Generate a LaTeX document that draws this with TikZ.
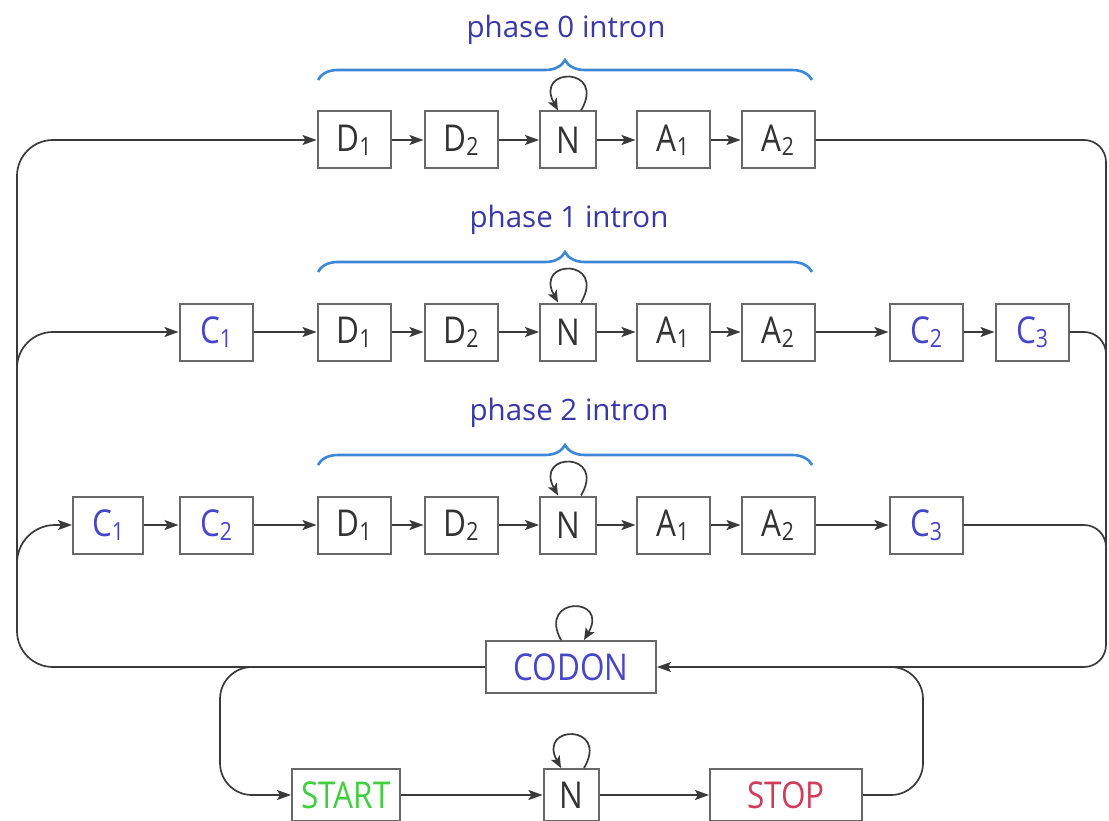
\documentclass[tikz,border=0pt]{standalone}
\usepackage{fontspec}
\setmainfont{Open Sans}
\newfontfamily\lblfont{Open Sans}[FakeStretch=0.85]
\usetikzlibrary{arrows.meta,decorations.pathreplacing,calc}
\definecolor{boxgray}{HTML}{686868}
\definecolor{lngray}{HTML}{3A3A3A}
\definecolor{txtgray}{HTML}{333333}
\definecolor{cblue}{HTML}{4646C8}
\definecolor{pblue}{HTML}{3838A8}
\definecolor{brblue}{HTML}{3C86D8}
\definecolor{sgreen}{HTML}{3FCF3F}
\definecolor{sred}{HTML}{D23C5A}
\newcommand{\mysub}[1]{\raisebox{-4pt}{\fontsize{25}{25}\selectfont #1}}
\tikzset{
  stbox/.style={draw=boxgray, line width=2pt, fill=white, inner sep=0pt,
    minimum width=73pt, minimum height=57pt, text=txtgray,
    font=\lblfont\fontsize{37}{37}\selectfont},
  nbox/.style={stbox, minimum width=56pt},
  cbox/.style={stbox, text=cblue},
  lowbox/.style={stbox, minimum height=52pt},
  ln/.style={draw=lngray, line width=1.7pt},
  arr/.style={ln, -{Stealth[length=14pt,width=10pt,inset=3pt]}},
  looparr/.style={ln, -{Stealth[length=12pt,width=10pt,inset=3pt]}},
  phase/.style={text=pblue, font=\fontsize{29.5}{29.5}\selectfont, inner sep=0pt},
  brc/.style={draw=brblue, line width=2.6pt,
    decorate, decoration={brace, amplitude=20pt}},
}
\begin{document}
\begin{tikzpicture}[x=1pt,y=-1pt]
\useasboundingbox (0,0) rectangle (1109,821);

% ---------- row 0 ----------
\node[stbox] (r0d1) at (354,140) {D\mysub{1}};
\node[stbox] (r0d2) at (461,140) {D\mysub{2}};
\node[nbox]  (r0n)  at (568,140) {N};
\node[stbox] (r0a1) at (673,140) {A\mysub{1}};
\node[stbox] (r0a2) at (778,140) {A\mysub{2}};

% ---------- row 1 ----------
\node[cbox]  (r1c1) at (216,332) {C\mysub{1}};
\node[stbox] (r1d1) at (354,332) {D\mysub{1}};
\node[stbox] (r1d2) at (461,332) {D\mysub{2}};
\node[nbox]  (r1n)  at (568,332) {N};
\node[stbox] (r1a1) at (673,332) {A\mysub{1}};
\node[stbox] (r1a2) at (778,332) {A\mysub{2}};
\node[cbox]  (r1c2) at (926,332) {C\mysub{2}};
\node[cbox]  (r1c3) at (1032,332) {C\mysub{3}};

% ---------- row 2 ----------
\node[cbox, minimum width=70pt] (r2c1) at (108,525) {C\mysub{1}};
\node[cbox]  (r2c2) at (216,525) {C\mysub{2}};
\node[stbox] (r2d1) at (354,525) {D\mysub{1}};
\node[stbox] (r2d2) at (461,525) {D\mysub{2}};
\node[nbox]  (r2n)  at (568,525) {N};
\node[stbox] (r2a1) at (673,525) {A\mysub{1}};
\node[stbox] (r2a2) at (778,525) {A\mysub{2}};
\node[cbox]  (r2c3) at (926,525) {C\mysub{3}};

% ---------- bottom ----------
\node[lowbox, text=cblue, minimum width=170pt] (codon) at (571,667) {CODON};
\node[lowbox, text=sgreen, minimum width=108pt] (start) at (346,795) {START};
\node[lowbox, minimum width=55pt] (bn) at (571,795) {N};
\node[lowbox, text=sred, minimum width=152pt] (stop) at (786,795) {STOP};

% ---------- phase labels and braces ----------
\node[phase] (p0) at (566,30) {phase 0 intron};
\node[phase] (p1) at (569,220) {phase 1 intron};
\node[phase] (p2) at (569,413) {phase 2 intron};
\draw[brc] (318,80) -- (812,80);
\draw[brc] (318,272) -- (812,272);
\draw[brc] (318,465) -- (812,465);

% ---------- chain arrows ----------
\draw[arr] (r0d1) -- (r0d2);
\draw[arr] (r0d2) -- (r0n);
\draw[arr] (r0n) -- (r0a1);
\draw[arr] (r0a1) -- (r0a2);

\draw[arr] (r1c1) -- (r1d1);
\draw[arr] (r1d1) -- (r1d2);
\draw[arr] (r1d2) -- (r1n);
\draw[arr] (r1n) -- (r1a1);
\draw[arr] (r1a1) -- (r1a2);
\draw[arr] (r1a2) -- (r1c2);
\draw[arr] (r1c2) -- (r1c3);

\draw[arr] (r2c1) -- (r2c2);
\draw[arr] (r2c2) -- (r2d1);
\draw[arr] (r2d1) -- (r2d2);
\draw[arr] (r2d2) -- (r2n);
\draw[arr] (r2n) -- (r2a1);
\draw[arr] (r2a1) -- (r2a2);
\draw[arr] (r2a2) -- (r2c3);

\draw[arr] (start) -- (bn);
\draw[arr] (bn) -- (stop);

% ---------- self loops ----------
\foreach \n in {r0n,r1n,r2n,bn}{
  \draw[looparr]
    ([xshift=13pt]\n.north) .. controls +(26,-44) and +(-24,-44) .. ([xshift=-10pt]\n.north);
}
\draw[looparr]
  ([xshift=-10pt]codon.north) .. controls +(-24,-44) and +(26,-44) .. ([xshift=13pt]codon.north);

% ---------- big loops ----------
\coordinate (L1) at (17,390);
\coordinate (L2) at (17,585);
\draw[arr, rounded corners=36pt] (codon.west) -- (17,667) -- (17,140) -- (r0d1.west);
\draw[arr, rounded corners=36pt] (L1) -- (17,332) -- (r1c1.west);
\draw[arr, rounded corners=38pt] (L2) -- (17,525) -- (r2c1.west);

\coordinate (R1) at (1106,390);
\coordinate (R2) at (1106,585);
\draw[arr, rounded corners=22pt] (r0a2.east) -- (1106,140) -- (1106,667) -- (codon.east);
\draw[ln, rounded corners=22pt] (r1c3.east) -- (1106,332) -- (R1);
\draw[ln, rounded corners=22pt] (r2c3.east) -- (1106,525) -- (R2);

\coordinate (B1) at (258,667);
\coordinate (B2) at (880,667);
\draw[arr, rounded corners=32pt] (B1) -- (220,667) -- (220,795) -- (start.west);
\draw[ln, rounded corners=32pt] (stop.east) -- (923,795) -- (923,667) -- (B2);
\end{tikzpicture}
\end{document}
